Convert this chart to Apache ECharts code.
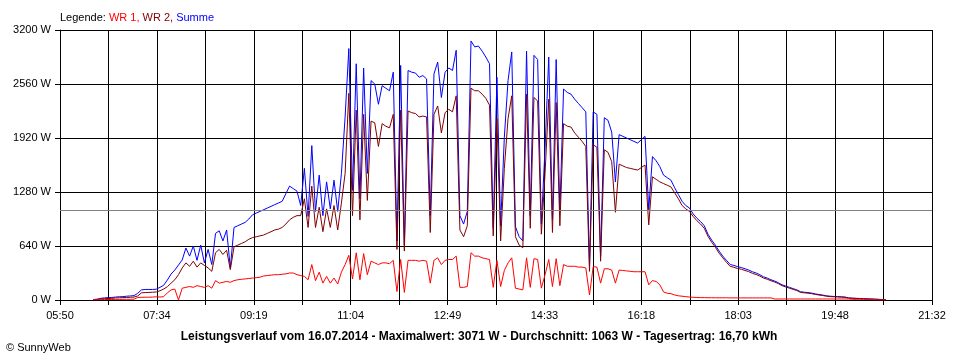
<!DOCTYPE html>
<html><head><meta charset="utf-8">
<script src="https://cdn.jsdelivr.net/npm/echarts@6/dist/echarts.min.js"></script>
<style>html,body{margin:0;padding:0;background:#fff}#c{width:960px;height:360px}</style>
</head><body><div id="c"></div>
<script>
// x axis: minutes after 05:50, 18 grid intervals up to 21:32
const tickLabels = ['05:50','07:34','09:19','11:04','12:49','14:33','16:18','18:03','19:48','21:32'];
const axisSpanMinutes = 942;
const gridIntervals = 18;
const firstSampleMinute = 36;   // 06:26
const sampleStepMinutes = 4;
const yTicksW = [0, 640, 1280, 1920, 2560, 3200];
const averageW = 1063;

const summe = [
5,10,20,25,28,30,35,38,40,45,
48,52,80,120,125,125,125,128,150,175,
237,308,355,415,474,616,520,640,470,650,
440,600,420,790,820,700,830,380,860,880,
900,920,960,1010,1030,1050,1070,1090,1110,1130,
1150,1170,1260,1350,1320,1290,1120,1560,990,1830,
1050,1480,1000,1400,1080,1420,1050,1500,2170,2980,
1300,2800,1200,2750,1500,2600,2560,2320,2540,2510,
2480,2700,700,2780,650,2720,2700,2690,2640,2660,
2620,1000,2680,2820,2400,2700,2750,2720,2960,1000,
900,1050,3070,3000,3010,2950,2880,2800,850,2640,
880,1930,2600,2940,870,750,700,2950,1000,2900,
2850,900,1800,2880,950,2850,1050,2500,2460,2440,
2380,2330,2280,2230,400,2230,2200,520,2160,2130,
1990,1400,1960,1940,1920,1900,1880,1860,1900,1940,
1070,1700,1650,1580,1480,1450,1420,1330,1250,1170,
1120,1090,1020,970,930,880,780,710,650,580,
520,470,420,410,395,385,370,355,335,320,
300,275,260,240,225,205,180,165,150,135,
120,98,92,88,82,72,65,58,50,45,
42,40,38,35,25,22,20,18,16,14,
12,10,8,6,5];

const wr2 = [
3,5,12,15,18,20,24,26,28,30,
32,35,48,85,88,90,92,95,110,130,
158,200,240,300,380,440,400,460,390,440,
410,380,340,560,600,540,590,360,630,650,
670,690,720,740,750,760,770,790,810,830,
840,860,900,950,980,1000,1000,1200,860,1350,
860,1100,810,1080,860,1120,830,1150,1500,2450,
1000,2250,950,2200,1180,2120,2100,1820,2090,2060,
2040,2200,600,2250,580,2240,2220,2210,2170,2180,
2170,800,2200,2300,1980,2220,2260,2230,2420,830,
750,880,2510,2480,2480,2440,2390,2310,760,2150,
700,1560,2150,2420,750,650,620,2440,850,2400,
2360,780,1500,2380,800,2340,880,2090,2060,2050,
1980,1930,1880,1820,340,1840,1810,460,1780,1750,
1640,1040,1610,1590,1570,1560,1550,1540,1570,1600,
890,1460,1430,1400,1380,1360,1340,1270,1200,1120,
1080,1050,990,940,900,850,755,685,625,555,
500,446,398,388,373,365,350,336,316,302,
284,260,246,228,213,194,170,155,140,126,
112,90,85,81,75,66,59,53,45,40,
38,36,34,31,22,20,18,16,14,12,
11,9,7,5,5];

const wr1 = [
2,3,5,6,6,6,7,7,8,8,
8,10,30,32,33,33,35,38,35,40,
85,120,130,0,140,150,160,150,170,160,
150,170,140,230,200,210,220,210,230,240,
245,250,255,260,265,270,285,290,295,300,
300,305,310,320,320,300,290,280,240,420,
230,330,200,280,200,260,190,330,420,530,
250,560,240,550,300,460,440,420,440,440,
430,470,100,480,90,470,470,470,460,470,
460,200,470,500,420,470,480,480,520,150,
150,160,560,520,520,500,490,480,150,470,
160,350,440,500,140,130,120,500,150,490,
480,140,300,480,160,490,170,420,400,400,
400,390,390,380,60,395,390,200,370,370,
355,200,355,350,345,340,335,335,335,335,
180,230,220,180,95,80,75,60,50,45,
40,35,32,30,28,28,27,27,26,26,
26,26,25,25,25,25,25,25,25,25,
25,25,25,25,12,12,12,12,12,12,
12,12,12,12,12,12,12,12,12,12,
12,12,12,12,12,8,8,8,8,6,
4,0,0,0,0];

const toPairs = arr => arr.map((v, i) => [firstSampleMinute + i * sampleStepMinutes, v]);
const FONT = 'Liberation Sans, Arial, sans-serif';
const step = axisSpanMinutes / gridIntervals;

const chart = echarts.init(document.getElementById('c'), null, {renderer: 'canvas'});
const lineSeries = (name, data, color, extra) => Object.assign({
  name, type: 'line', data: toPairs(data), showSymbol: false, symbol: 'none',
  lineStyle: {color, width: 1}, itemStyle: {color}, animation: false, silent: true
}, extra || {});

chart.setOption({
  animation: false,
  grid: {left: 60, right: 28, top: 30, bottom: 60},
  xAxis: {
    type: 'value', min: 0, max: axisSpanMinutes, interval: step,
    axisLine: {show: true, lineStyle: {color: '#000', width: 1}},
    axisTick: {show: true, length: 5, lineStyle: {color: '#000'}},
    splitLine: {show: true, lineStyle: {color: '#000', width: 1}},
    axisLabel: {
      color: '#000', fontSize: 11, fontFamily: FONT, margin: 10,
      showMinLabel: true, showMaxLabel: true,
      formatter: v => { const k = Math.round(v / step); return k % 2 ? '' : tickLabels[k / 2]; }
    }
  },
  yAxis: {
    type: 'value', min: yTicksW[0], max: yTicksW[yTicksW.length - 1], interval: yTicksW[1] - yTicksW[0],
    axisLine: {show: true, lineStyle: {color: '#000', width: 1}},
    axisTick: {show: true, length: 5, lineStyle: {color: '#000'}},
    splitLine: {show: true, lineStyle: {color: '#000', width: 1}},
    axisLabel: {color: '#000', fontSize: 11, fontFamily: FONT, margin: 9, formatter: v => v + ' W'}
  },
  series: [
    lineSeries('Summe', summe, '#0000ff', {
      markLine: {silent: true, symbol: 'none', label: {show: false}, animation: false,
        lineStyle: {color: '#808080', width: 1, type: 'solid'}, data: [{yAxis: averageW}]}
    }),
    lineSeries('WR 2', wr2, '#800000'),
    lineSeries('WR 1', wr1, '#ff0000')
  ],
  graphic: [
    {type: 'text', left: 60, top: 12, style: {
      text: '{k|Legende: }{a|WR 1, }{b|WR 2, }{c|Summe}',
      rich: {
        k: {fill: '#000', fontSize: 11, fontFamily: FONT},
        a: {fill: '#ff0000', fontSize: 11, fontFamily: FONT},
        b: {fill: '#800000', fontSize: 11, fontFamily: FONT},
        c: {fill: '#0000ff', fontSize: 11, fontFamily: FONT}
      }}},
    {type: 'text', x: 479, y: 337, style: {
      text: 'Leistungsverlauf vom 16.07.2014 - Maximalwert: 3071 W - Durchschnitt: 1063 W - Tagesertrag: 16,70 kWh',
      fill: '#000', font: 'bold 12px Liberation Sans, Arial, sans-serif', align: 'center', verticalAlign: 'middle'}},
    {type: 'text', x: 6, y: 348, style: {
      text: '© SunnyWeb', fill: '#000', font: '11px Liberation Sans, Arial, sans-serif', align: 'left', verticalAlign: 'middle'}}
  ]
});
</script></body></html>
